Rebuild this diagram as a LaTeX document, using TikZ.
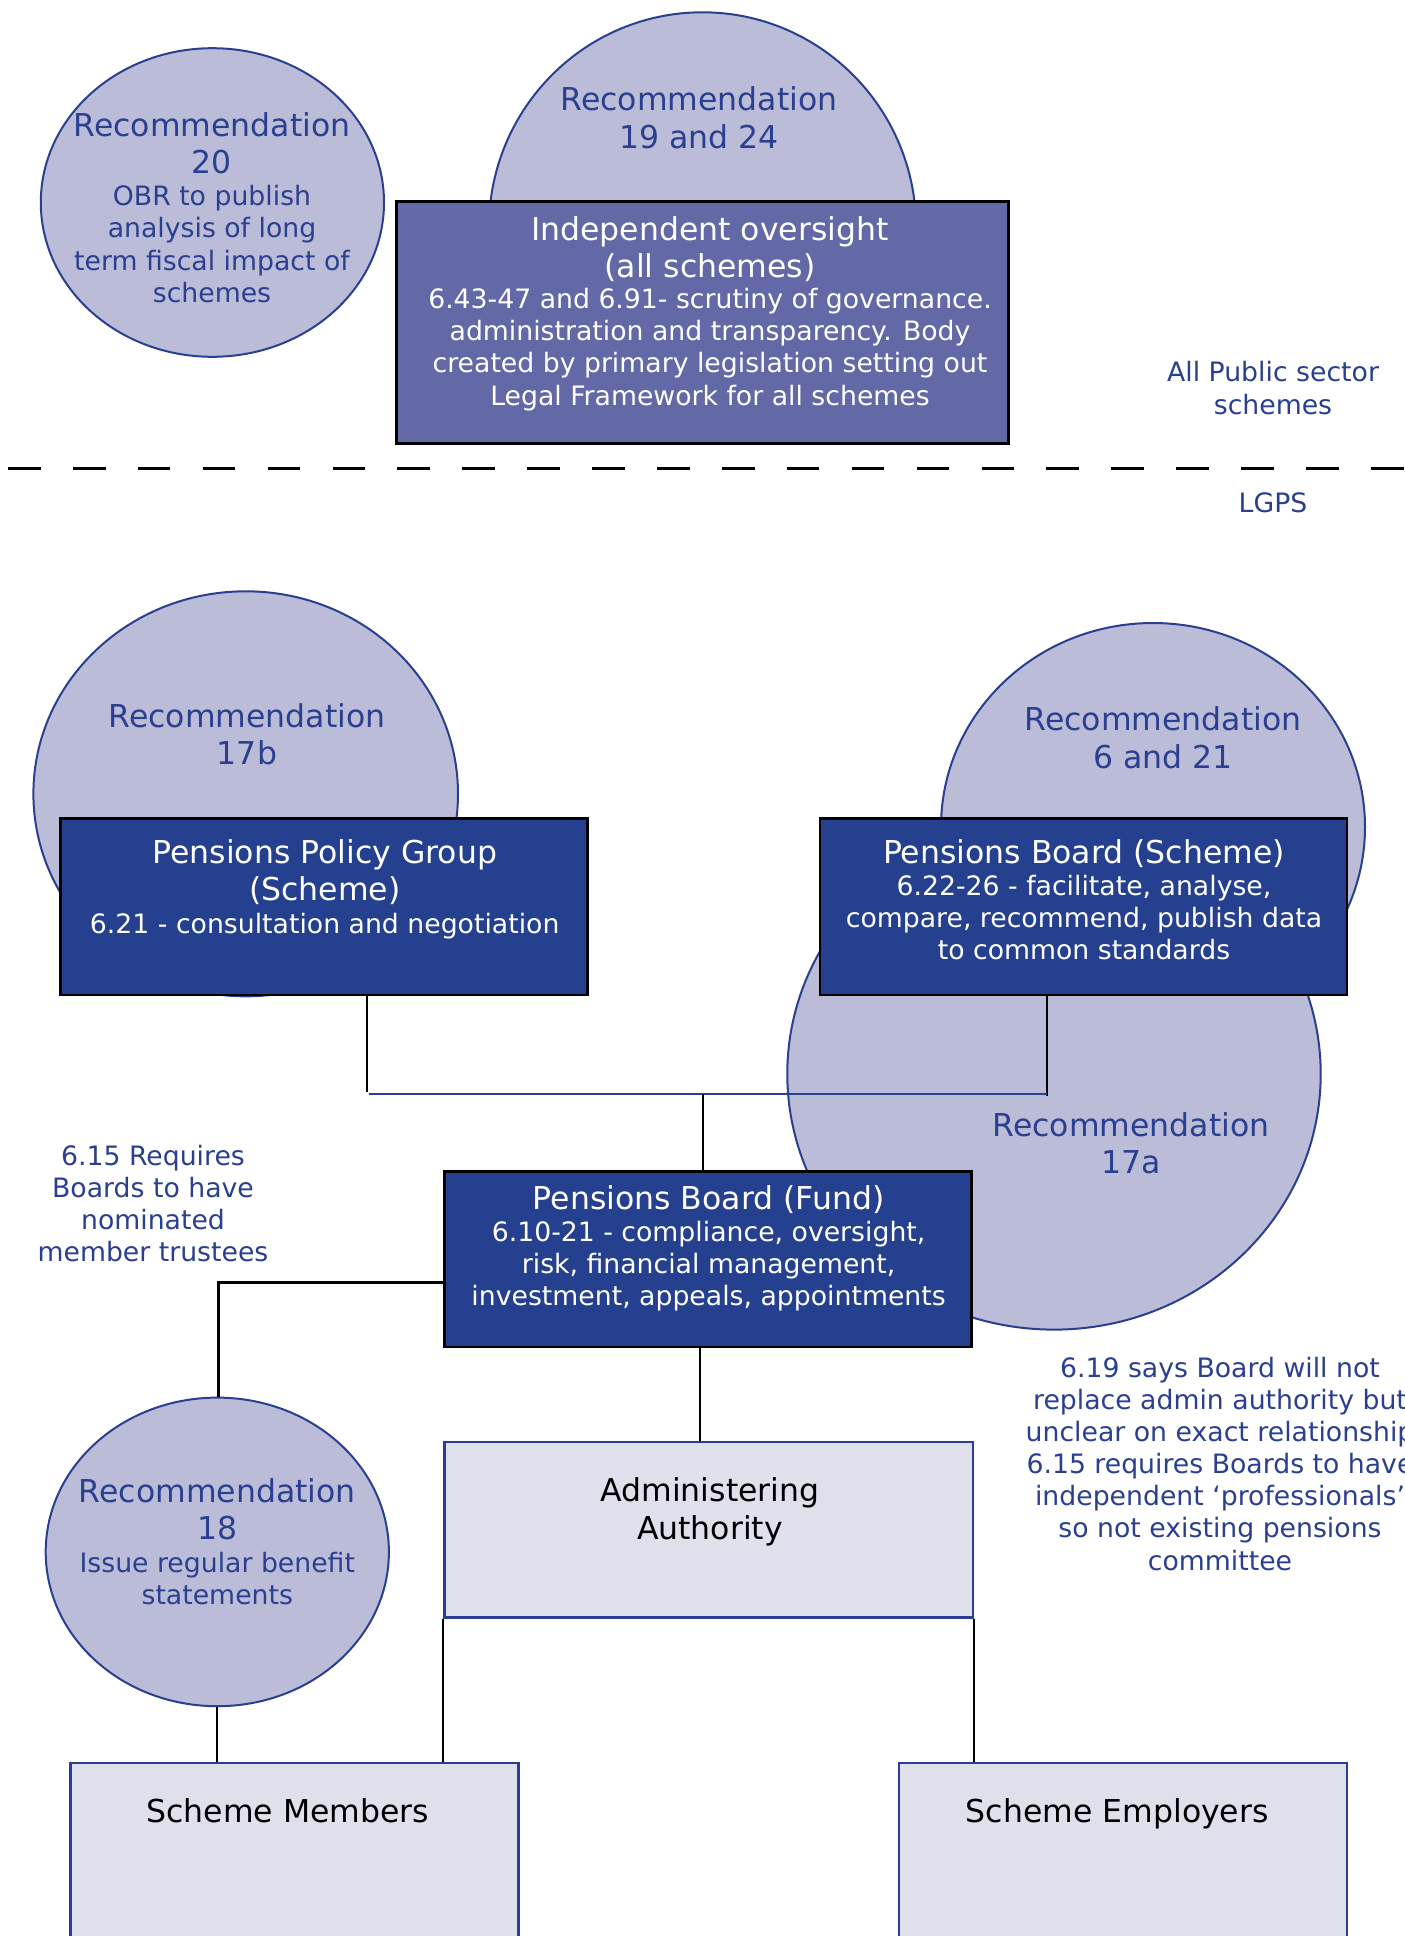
\documentclass[tikz,border=0pt]{standalone}
\usepackage{fontspec}
\setmainfont{DejaVu Sans}
\usetikzlibrary{shapes.geometric}
\definecolor{ellfill}{HTML}{BBBCD8}
\definecolor{navy}{HTML}{2A3F8F}
\definecolor{darkfill}{HTML}{25408F}
\definecolor{midfill}{HTML}{6368A6}
\definecolor{lightfill}{HTML}{E0E0EC}
\newcommand\fbig{\fontsize{31.5}{37.5}\selectfont}
\newcommand\fsmall{\fontsize{26.7}{32.1}\selectfont}
\begin{document}
\begin{tikzpicture}[x=1pt,y=-1pt,
  ell/.style={ellipse, draw=navy, fill=ellfill, line width=2pt, inner sep=0pt},
  dbox/.style={rectangle, draw=black, fill=darkfill, line width=2.6pt, inner sep=0pt},
  mbox/.style={rectangle, draw=black, fill=midfill, line width=2.6pt, inner sep=0pt},
  lbox/.style={rectangle, draw=navy, fill=lightfill, line width=2.4pt, inner sep=0pt},
  conn/.style={draw=black, line width=2.2pt},
  hconn/.style={draw=navy, line width=2.6pt},
  dashline/.style={draw=black, line width=3pt, dash pattern=on 32.6pt off 32.3pt},
  bt/.style={text=navy, align=center, inner sep=0pt},
  wt/.style={text=white, align=center, inner sep=0pt},
  kt/.style={text=black, align=center, inner sep=0pt}]
\useasboundingbox (0,0) rectangle (1405,1936);
\fill[white] (0,0) rectangle (1405,1936);

% ellipses
\node[ell, minimum width=343.2pt, minimum height=308.6pt] (r20) at (212.4,202.5) {};
\node[ell, minimum width=427.2pt, minimum height=431.4pt] (r1924) at (702.5,228) {};
\node[ell, minimum width=424.6pt, minimum height=405pt] (r17b) at (245.7,793.8) {};
\node[ell, minimum width=424pt, minimum height=408pt] (r621) at (1153,827) {};
\node[ell, minimum width=533.4pt, minimum height=511.2pt] (r17a) at (1054,1074) {};
\node[ell, minimum width=343.2pt, minimum height=308.6pt] (r18) at (217.3,1551.9) {};

% boxes
\node[mbox, minimum width=612.4pt, minimum height=242pt] (io) at (702.5,322.2) {};
\node[dbox, minimum width=527.2pt, minimum height=176.5pt] (ppg) at (324.1,906.75) {};
\node[dbox, minimum width=527.2pt, minimum height=176.5pt] (pbs) at (1083.4,906.75) {};
\node[dbox, minimum width=527.1pt, minimum height=175.4pt] (pbf) at (708,1259.3) {};
\node[lbox, minimum width=528.4pt, minimum height=175.3pt] (aa) at (708.7,1529.65) {};
\node[lbox, minimum width=448.1pt, minimum height=227pt] (sm) at (294.45,1876.5) {};
\node[lbox, minimum width=448.2pt, minimum height=227pt] (se) at (1122.9,1876.5) {};

% divider
\draw[dashline] (8,468) -- (1405,468);

% connectors
\coordinate (jl) at (368.5,1094);
\coordinate (jr) at (1047,1094);
\coordinate (jm) at (702.7,1094);
\coordinate (pl) at (367,1092);
\coordinate (pr) at (1047,1095.5);
\draw[conn] (pl |- ppg.south) -- (pl);
\draw[conn] (pr |- pbs.south) -- (pr);
\draw[hconn] (jl) -- (jr);
\draw[conn] (jm) -- (jm |- pbf.north);
\coordinate (c18) at (218.5,1282.5);
\draw[conn] (c18 -| pbf.west) -- (c18) -- (c18 |- r18.north);
\coordinate (cpa) at (700,1300);
\draw[conn] (cpa |- pbf.south) -- (cpa |- aa.north);
\draw[conn] (aa.south west) -- (aa.south west |- sm.north);
\draw[conn] (aa.south east) -- (aa.south east |- se.north);
\draw[conn] (r18.south) -- (r18.south |- sm.north);

% texts
\node[bt, font=\fbig] (t20a) at (212,143.5) {Recommendation\\20};
\node[bt, font=\fsmall] (t20b) at (212,244) {OBR to publish\\analysis of long\\term fiscal impact of\\schemes};
\node[bt, font=\fbig] (t1924) at (699,118) {Recommendation\\19 and 24};
\node[wt, font=\fbig] (tioa) at (710,249) {Independent oversight\\(all schemes)};
\node[wt, font=\fsmall] (tiob) at (710,349.5) {6.43-47 and 6.91- scrutiny of governance.\\administration and transparency. Body\\created by primary legislation setting out\\Legal Framework for all schemes};
\node[bt, font=\fsmall] (tall) at (1273,388) {All Public sector\\schemes};
\node[bt, font=\fsmall] (tlgps) at (1273,502.5) {LGPS};
\node[bt, font=\fbig] (t17b) at (247,734) {Recommendation\\17b};
\node[wt, font=\fbig] (tppga) at (324.7,872) {Pensions Policy Group\\(Scheme)};
\node[wt, font=\fsmall] (tppgb) at (324.7,926) {6.21 - consultation and negotiation};
\node[bt, font=\fbig] (t621) at (1163,737.5) {Recommendation\\6 and 21};
\node[wt, font=\fbig] (tpbsa) at (1084,853.5) {Pensions Board (Scheme)};
\node[wt, font=\fsmall] (tpbsb) at (1084,917.3) {6.22-26 - facilitate, analyse,\\compare, recommend, publish data\\to common standards};
\node[bt, font=\fbig] (t17a) at (1131,1143) {Recommendation\\17a};
\node[wt, font=\fbig] (tpbfa) at (708.6,1200) {Pensions Board (Fund)};
\node[wt, font=\fsmall] (tpbfb) at (708.6,1266) {6.10-21 - compliance, oversight,\\risk, financial management,\\investment, appeals, appointments};
\node[bt, font=\fsmall] (t615) at (153,1203.7) {6.15 Requires\\Boards to have\\nominated\\member trustees};
\node[bt, font=\fbig] (t18a) at (217.3,1509) {Recommendation\\18};
\node[bt, font=\fsmall] (t18b) at (217.3,1578.5) {Issue regular benefit\\statements};
\node[kt, font=\fbig] (taa) at (710,1512) {Administering\\Authority};
\node[bt, font=\fsmall] (t619) at (1220,1463.8) {6.19 says Board will not\\replace admin authority but\\unclear on exact relationship\\6.15 requires Boards to have\\independent ‘professionals’\\so not existing pensions\\committee};
\node[kt, font=\fbig] (tsm) at (287.7,1810.5) {Scheme Members};
\node[kt, font=\fbig] (tse) at (1117.3,1814) {Scheme Employers};
\end{tikzpicture}
\end{document}
